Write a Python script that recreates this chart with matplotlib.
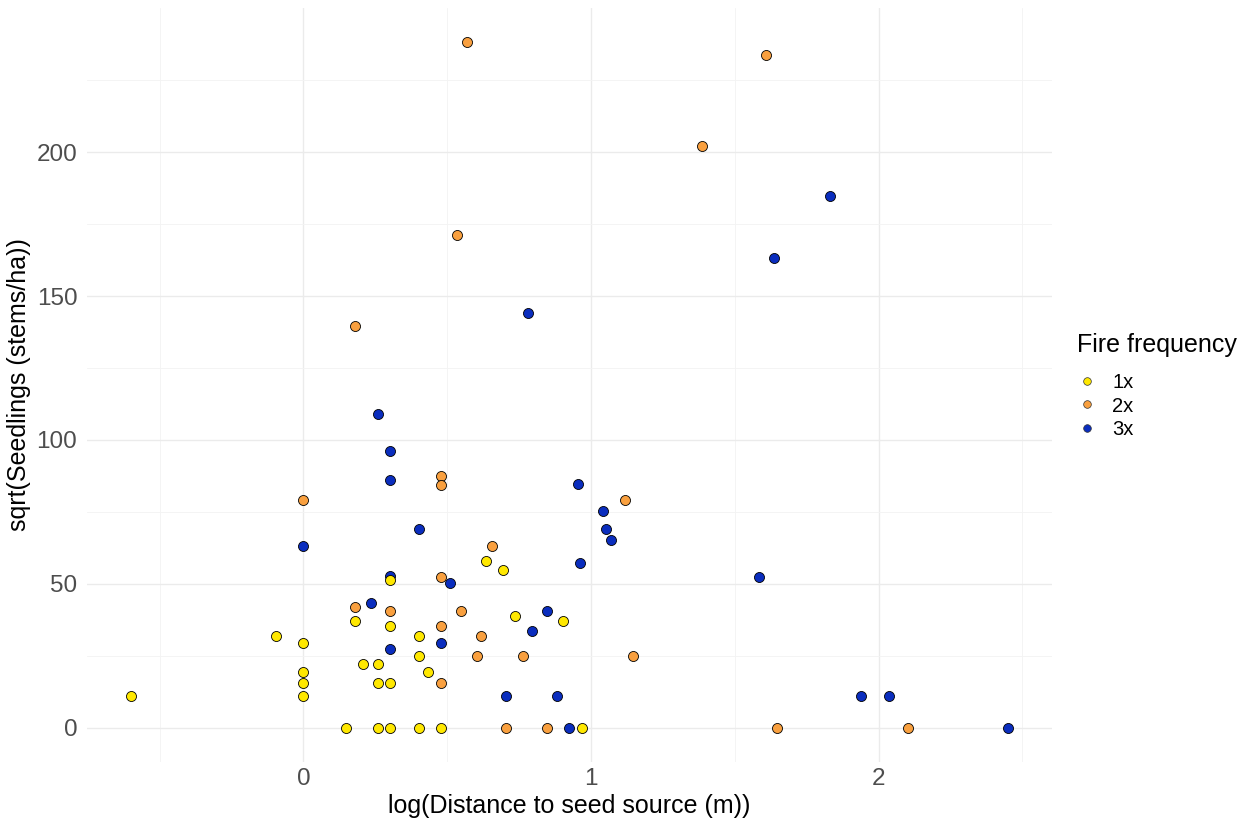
import numpy as np
import matplotlib
matplotlib.use("Agg")
import matplotlib.pyplot as plt
from matplotlib.lines import Line2D

plt.rcParams['font.family'] = ['Liberation Sans', 'DejaVu Sans']

# log10 distance to seed source (x) and sqrt seedling density (y), by fire frequency
x_1x = [0.302, 0.18, 0.302, -0.095, 0.0, 0.208, 0.259, 0.0, 0.0, 0.259, 0.302,
        -0.6, 0.0, 0.147, 0.259, 0.302, 0.634, 0.693, 0.735, 0.904, 0.4, 0.4,
        0.433, 0.4, 0.479, 0.97]
y_1x = [51.4, 37.2, 35.3, 31.7, 29.6, 22.3, 22.3, 19.4, 15.7, 15.7, 15.7,
        11.1, 11.1, 0, 0, 0, 58.1, 54.9, 38.7, 37.2, 31.7, 24.8,
        19.4, 0, 0, 0]

x_2x = [0.18, 0.302, 0.656, 0.479, 0.547, 0.479, 0.617, 0.605, 0.765, 1.147,
        0.479, 0.703, 0.848, 0.478, 0.478, 0.0, 1.118, 0.57, 1.607, 1.385,
        0.534, 0.18, 1.646, 2.101]
y_2x = [41.9, 40.4, 63.2, 52.3, 40.4, 35.3, 31.7, 24.8, 24.8, 24.8,
        15.7, 0, 0, 87.4, 84.5, 79.2, 79.1, 238.2, 233.9, 202.1,
        171.3, 139.6, 0, 0]

x_3x = [0.0, 0.302, 0.234, 0.302, 1.068, 0.962, 0.508, 0.848, 0.794, 0.479,
        0.703, 0.883, 0.924, 0.259, 0.302, 0.302, 0.4, 0.956, 1.043, 1.053,
        1.83, 1.635, 0.781, 1.585, 1.939, 2.036, 2.45]
y_3x = [63.2, 52.6, 43.4, 27.4, 65.4, 57.1, 50.2, 40.4, 33.6, 29.5,
        11.1, 11.1, 0, 109.1, 96.2, 86.0, 69.0, 84.6, 75.2, 69.0,
        184.8, 163.3, 144.1, 52.3, 11.1, 11.1, 0]

labels = ['1x', '2x', '3x']
colors = {'1x': '#FFE800', '2x': '#F9A03F', '3x': '#0A2DBE'}

fig = plt.figure(figsize=(12.47, 8.25), dpi=100)
ax = fig.add_axes([0.0698, 0.0764, 0.7738, 0.9139])

for lab, xs, ys, z in [('2x', x_2x, y_2x, 3), ('3x', x_3x, y_3x, 4), ('1x', x_1x, y_1x, 5)]:
    ax.scatter(xs, ys, s=52, c=colors[lab], edgecolors='black', linewidths=0.6, zorder=z)

# ggplot-style 5% expansion
allx = x_1x + x_2x + x_3x
ally = y_1x + y_2x + y_3x
dx = (max(allx) - min(allx)) * 0.05
dy = (max(ally) - min(ally)) * 0.05
ax.set_xlim(min(allx) - dx, max(allx) + dx)
ax.set_ylim(min(ally) - dy, max(ally) + dy)

ax.set_xticks([0, 1, 2])
ax.set_yticks([0, 50, 100, 150, 200])
ax.set_xticks([-0.5, 0.5, 1.5, 2.5], minor=True)
ax.set_yticks([25, 75, 125, 175, 225], minor=True)
ax.grid(which='major', color='#EBEBEB', linewidth=1.0)
ax.grid(which='minor', color='#F3F3F3', linewidth=0.6)
ax.set_axisbelow(True)
for sp in ax.spines.values():
    sp.set_visible(False)
ax.tick_params(which='both', length=0)
ax.tick_params(axis='both', labelsize=17.5, labelcolor='#4D4D4D')
ax.tick_params(axis='y', pad=7)
ax.tick_params(axis='x', pad=4)

ax.set_xlabel('log(Distance to seed source (m))', fontsize=18, labelpad=3)
ax.set_ylabel('sqrt(Seedlings (stems/ha))', fontsize=18, labelpad=4)

# legend: title as separate text, keys underneath
fig.text(1077 / 1247, 1 - 345 / 825, 'Fire frequency', fontsize=18, va='center', ha='left')
handles = [Line2D([], [], marker='o', linestyle='none', markersize=5.5,
                  markerfacecolor=colors[l], markeredgecolor='#333333',
                  markeredgewidth=0.5, label=l) for l in labels]
leg = fig.legend(handles=handles, loc='upper left',
                 bbox_to_anchor=(1077 / 1247, 1 - 373.5 / 825), frameon=False,
                 fontsize=14.5, handlelength=1.0, handletextpad=0.75,
                 labelspacing=0.2, borderaxespad=0, borderpad=0)

fig.savefig('out.png', dpi=100)
